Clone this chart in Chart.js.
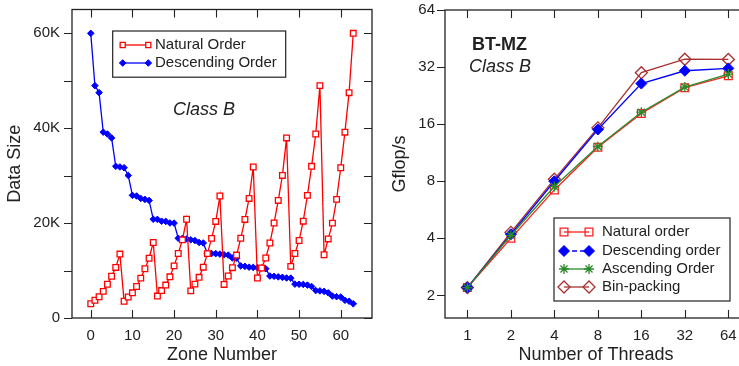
<!DOCTYPE html>
<html><head><meta charset="utf-8">
<script src="https://cdn.jsdelivr.net/npm/chart.js@4"></script>
<style>
html,body{margin:0;padding:0;background:#fff;overflow:hidden;width:739px;height:366px;position:relative;}
#l{position:absolute;left:0;top:0;width:380px;height:366px;}
#r{position:absolute;left:380px;top:0;width:380px;height:366px;}
</style></head><body>
<div id="l"><canvas id="c1"></canvas></div>
<div id="r"><canvas id="c2"></canvas></div>
<script>
// ---------- Data: left panel (zone data sizes) ----------
const zones = [0,1,2,3,4,5,6,7,8,9,10,11,12,13,14,15,16,17,18,19,20,21,22,23,24,25,26,27,28,29,30,31,
               32,33,34,35,36,37,38,39,40,41,42,43,44,45,46,47,48,49,50,51,52,53,54,55,56,57,58,59,60,61,62,63];
const naturalOrder = [2992,3740,4488,5610,7106,8789,10659,13464,
                      3536,4420,5304,6630,8398,10387,12597,15912,
                      4624,5780,6936,8670,10982,13583,16473,20808,
                      5712,7140,8568,10710,13566,16779,20349,25704,
                      7072,8840,10608,13260,16796,20774,25194,31824,
                      8432,10540,12648,15810,20026,24769,30039,37944,
                      10880,13600,16320,20400,25840,31960,38760,48960,
                      13328,16660,19992,24990,31654,39151,47481,59976];
const descendingOrder = [59976,48960,47481,39151,38760,37944,31960,31824,31654,30039,25840,25704,25194,24990,24769,20808,
                         20774,20400,20349,20026,19992,16796,16779,16660,16473,16320,15912,15810,13600,13583,13566,13464,
                         13328,13260,12648,12597,10982,10880,10710,10659,10608,10540,10387,8840,8789,8670,8568,8432,
                         8398,7140,7106,7072,6936,6630,5780,5712,5610,5304,4624,4488,4420,3740,3536,2992];
const leftXTicks = [0,10,20,30,40,50,60];
const leftYLabels = [0,20000,40000,60000];
const leftYTickMarks = [0,10000,20000,30000,40000,50000,60000];

// ---------- Data: right panel (BT-MZ Class B performance) ----------
const threads = [1,2,4,8,16,32,64];
const gfNatural    = [2.2,4.0,7.2,12.1,18.2,24.9,28.8];
const gfDescending = [2.2,4.2,8.0,15.0,26.2,30.6,31.5];
const gfAscending  = [2.2,4.15,7.5,12.2,18.5,25.1,29.4];
const gfBinPacking = [2.2,4.3,8.2,15.3,29.9,35.2,35.1];
const rightYTicks = [2,4,8,16,32,64];

const FONT = "'Liberation Sans', Arial, Helvetica, sans-serif";
const TXT = '#222';

function drawMarker(ctx, style, x, y, r, color, fill, lw) {
  ctx.save();
  ctx.strokeStyle = color; ctx.fillStyle = fill; ctx.lineWidth = lw;
  ctx.beginPath();
  if (style === 'rect') {
    const s = Math.SQRT1_2 * r;
    ctx.rect(x - s, y - s, 2*s, 2*s);
    ctx.fill(); ctx.stroke();
  } else if (style === 'rectRot') {
    ctx.moveTo(x, y - r); ctx.lineTo(x + r, y); ctx.lineTo(x, y + r); ctx.lineTo(x - r, y); ctx.closePath();
    ctx.fill(); ctx.stroke();
  } else if (style === 'star') {
    ctx.moveTo(x - r, y); ctx.lineTo(x + r, y);
    ctx.moveTo(x, y - r); ctx.lineTo(x, y + r);
    const d = r * Math.SQRT1_2;
    ctx.moveTo(x - d, y - d); ctx.lineTo(x + d, y + d);
    ctx.moveTo(x - d, y + d); ctx.lineTo(x + d, y - d);
    ctx.stroke();
  }
  ctx.restore();
}

const framePlugin = {
  id: 'frame',
  afterDatasetsDraw(chart, args, o) {
    const {ctx, chartArea: a} = chart;
    const xs = chart.scales.x, ys = chart.scales.y;
    ctx.save();
    ctx.strokeStyle = TXT; ctx.lineWidth = 1.3;
    ctx.strokeRect(a.left, a.top, a.right - a.left, a.bottom - a.top);
    ctx.lineWidth = 1.1;
    ctx.beginPath();
    o.xTicks.forEach(v => {
      const px = Math.round(xs.getPixelForValue(v)) + 0.5;
      ctx.moveTo(px, a.bottom); ctx.lineTo(px, a.bottom - o.tl);
      ctx.moveTo(px, a.top); ctx.lineTo(px, a.top + o.tl);
    });
    o.yTicks.forEach(v => {
      const py = Math.round(ys.getPixelForValue(v)) + 0.5;
      ctx.moveTo(a.left - o.tl, py); ctx.lineTo(a.left, py);
      ctx.moveTo(a.right, py); ctx.lineTo(a.right - o.tl, py);
    });
    ctx.stroke();
    (o.texts || []).forEach(t => {
      ctx.font = t.font; ctx.fillStyle = TXT; ctx.textBaseline = 'middle'; ctx.textAlign = 'left';
      ctx.fillText(t.text, a.left + t.dx, a.top + t.dy);
    });
    const L = o.legend;
    if (L) {
      const bx = a.left + L.dx, by = a.top + L.dy;
      ctx.fillStyle = '#fff';
      ctx.fillRect(bx, by, L.w, L.h);
      ctx.strokeStyle = TXT; ctx.lineWidth = 1.2;
      ctx.strokeRect(bx, by, L.w, L.h);
      L.items.forEach((it, i) => {
        const ds = chart.data.datasets[it.ds];
        const y = a.top + L.rows[i];
        const x1 = a.left + L.m1, x2 = a.left + L.m2;
        ctx.save();
        ctx.strokeStyle = ds.borderColor; ctx.lineWidth = ds.borderWidth;
        if (it.dash) ctx.setLineDash(it.dash);
        ctx.beginPath(); ctx.moveTo(x1, y); ctx.lineTo(x2, y); ctx.stroke();
        ctx.restore();
        [x1, x2].forEach(x => drawMarker(ctx, ds.pointStyle, x, y, it.r || ds.pointRadius,
                                        ds.pointBorderColor || ds.borderColor, ds.pointBackgroundColor, ds.pointBorderWidth));
        ctx.font = L.font; ctx.fillStyle = TXT; ctx.textBaseline = 'middle'; ctx.textAlign = 'left';
        ctx.fillText(ds.label, a.left + L.tx, y);
      });
    }
    ctx.restore();
  }
};

Chart.defaults.font.family = FONT;
Chart.defaults.color = TXT;

function fixY(w) { return s => { s.width = w; s.paddingTop = 0; s.paddingBottom = 0; }; }
function fixX(h) { return s => { s.height = h; s.paddingLeft = 0; s.paddingRight = 0; }; }

// ---------- Left chart ----------
new Chart(document.getElementById('c1'), {
  type: 'line',
  data: {
    datasets: [
      { label: 'Natural Order', data: zones.map((z, i) => ({x: z, y: naturalOrder[i]})),
        borderColor: '#ff0000', borderWidth: 1.3, pointStyle: 'rect', pointRadius: 4,
        pointBackgroundColor: '#ffffff', pointBorderColor: '#ff0000', pointBorderWidth: 1.3, order: 1 },
      { label: 'Descending Order', data: zones.map((z, i) => ({x: z, y: descendingOrder[i]})),
        borderColor: '#0000ff', borderWidth: 1.3, pointStyle: 'rectRot', pointRadius: 3.3,
        pointBackgroundColor: '#0000ff', pointBorderColor: '#0000ff', pointBorderWidth: 1, order: 2 }
    ]
  },
  options: {
    responsive: true, maintainAspectRatio: false, animation: false, devicePixelRatio: 1,
    layout: { padding: { left: 0, right: 8, top: 9.5, bottom: 0 } },
    plugins: {
      legend: { display: false }, tooltip: { enabled: false },
      frame: {
        xTicks: leftXTicks, yTicks: leftYTickMarks, tl: 8,
        texts: [ { text: 'Class B', font: 'italic 18px ' + FONT, dx: 101, dy: 100.5 } ],
        legend: { dx: 40.7, dy: 21.5, w: 173, h: 46.2, m1: 50.7, m2: 76.3, tx: 83,
                  rows: [35.5, 53.5], font: '15px ' + FONT,
                  items: [ { ds: 0, r: 3.6 }, { ds: 1, r: 3.3 } ] }
      }
    },
    scales: {
      x: { type: 'linear', min: -4.5, max: 67.5,
           afterFit: fixX(48),
           afterBuildTicks: s => { s.ticks = leftXTicks.map(v => ({value: v})); },
           grid: { display: false, drawTicks: false }, border: { display: false },
           ticks: { padding: 9, font: { size: 15 }, color: TXT, autoSkip: false, maxRotation: 0, callback: v => String(v) },
           title: { display: true, text: 'Zone Number', font: { size: 18 }, color: TXT, padding: { top: 0, bottom: 0 } } },
      y: { type: 'linear', min: 0, max: 65000,
           afterFit: fixY(72),
           afterBuildTicks: s => { s.ticks = leftYLabels.map(v => ({value: v})); },
           grid: { display: false, drawTicks: false }, border: { display: false },
           ticks: { padding: 12, font: { size: 15 }, color: TXT, autoSkip: false,
                    callback: v => v === 0 ? '0' : (v / 1000) + 'K' },
           title: { display: true, text: 'Data Size', font: { size: 18 }, color: TXT, padding: { top: 4, bottom: 4 } } }
    }
  },
  plugins: [framePlugin]
});

// ---------- Right chart ----------
new Chart(document.getElementById('c2'), {
  type: 'line',
  data: {
    datasets: [
      { label: 'Natural order', data: threads.map((t, i) => ({x: t, y: gfNatural[i]})),
        borderColor: '#ff2020', borderWidth: 1.3, pointStyle: 'rect', pointRadius: 5.5,
        pointBackgroundColor: 'rgba(255,255,255,0)', pointBorderColor: '#ff2020', pointBorderWidth: 1.3, order: 4 },
      { label: 'Descending order', data: threads.map((t, i) => ({x: t, y: gfDescending[i]})),
        borderColor: '#0000ff', borderWidth: 1.3, pointStyle: 'rectRot', pointRadius: 5.5,
        pointBackgroundColor: '#0000ff', pointBorderColor: '#0000ff', pointBorderWidth: 1, order: 2 },
      { label: 'Ascending Order', data: threads.map((t, i) => ({x: t, y: gfAscending[i]})),
        borderColor: '#2a8a2a', borderWidth: 1.3, pointStyle: 'star', pointRadius: 5,
        pointBackgroundColor: '#2a8a2a', pointBorderColor: '#2a8a2a', pointBorderWidth: 1.3, order: 1 },
      { label: 'Bin-packing', data: threads.map((t, i) => ({x: t, y: gfBinPacking[i]})),
        borderColor: '#a83030', borderWidth: 1.3, pointStyle: 'rectRot', pointRadius: 6,
        pointBackgroundColor: 'rgba(255,255,255,0)', pointBorderColor: '#a83030', pointBorderWidth: 1.3, order: 3 }
    ]
  },
  options: {
    responsive: true, maintainAspectRatio: false, animation: false, devicePixelRatio: 1,
    layout: { padding: { left: 0, right: 13, top: 10, bottom: 0 } },
    plugins: {
      legend: { display: false }, tooltip: { enabled: false },
      frame: {
        xTicks: threads, yTicks: rightYTicks, tl: 8,
        texts: [ { text: 'BT-MZ', font: 'bold 18px ' + FONT, dx: 27, dy: 35 },
                 { text: 'Class B', font: 'italic 18px ' + FONT, dx: 24, dy: 57 } ],
        legend: { dx: 109, dy: 208, w: 176, h: 83, m1: 119, m2: 144, tx: 157,
                  rows: [222, 241, 259, 277], font: '15px ' + FONT,
                  items: [ { ds: 0, r: 5.5 }, { ds: 1, r: 5.5, dash: [5, 3] }, { ds: 2, r: 5 }, { ds: 3, r: 6 } ] }
      }
    },
    scales: {
      x: { type: 'logarithmic', min: 0.742, max: 86.2,
           afterFit: fixX(48),
           afterBuildTicks: s => { s.ticks = threads.map(v => ({value: v})); },
           grid: { display: false, drawTicks: false }, border: { display: false },
           ticks: { padding: 9, font: { size: 15 }, color: TXT, autoSkip: false, maxRotation: 0, callback: v => String(v) },
           title: { display: true, text: 'Number of Threads', font: { size: 18 }, color: TXT, padding: { top: 0, bottom: 0 } } },
      y: { type: 'logarithmic', min: 1.52, max: 64,
           afterFit: fixY(65),
           afterBuildTicks: s => { s.ticks = rightYTicks.map(v => ({value: v})); },
           grid: { display: false, drawTicks: false }, border: { display: false },
           ticks: { padding: 10, font: { size: 15 }, color: TXT, autoSkip: false, callback: v => String(v) },
           title: { display: true, text: 'Gflop/s', font: { size: 18 }, color: TXT, padding: { top: 9, bottom: 9 } } }
    }
  },
  plugins: [framePlugin]
});
</script>
</body></html>
